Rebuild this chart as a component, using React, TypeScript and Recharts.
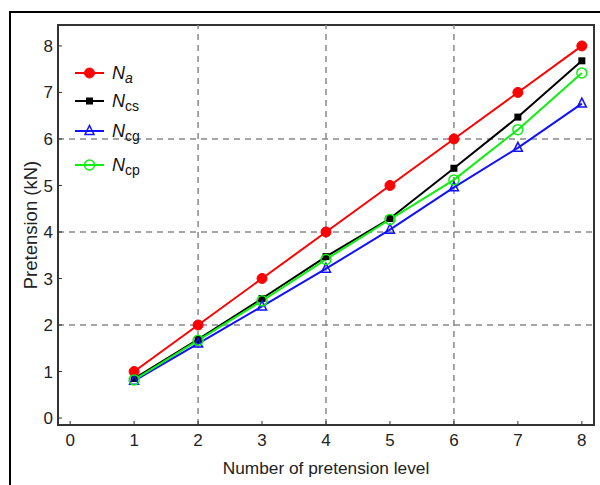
import React from 'react';
import {
    LineChart,
    Line,
    XAxis,
    YAxis,
    ReferenceLine,
    ReferenceArea,
} from 'recharts';

// pretension levels and the measured / computed forces (kN)
const levels = [1, 2, 3, 4, 5, 6, 7, 8];
const na = [1, 2, 3, 4, 5, 6, 7, 8];
const ncs = [0.85, 1.69, 2.57, 3.47, 4.29, 5.37, 6.47, 7.68];
const ncg = [0.8, 1.6, 2.4, 3.21, 4.05, 4.96, 5.81, 6.76];
const ncp = [0.82, 1.67, 2.52, 3.41, 4.27, 5.12, 6.2, 7.42];

const xTicks = [0, 1, 2, 3, 4, 5, 6, 7, 8];
const yTicks = [0, 1, 2, 3, 4, 5, 6, 7, 8];
const gridLevels = [2, 4, 6];

const X_DOMAIN: [number, number] = [-0.19, 8.19];
const Y_DOMAIN: [number, number] = [-0.15, 8.45];

const FONT = '"Liberation Sans", Arial, sans-serif';
const AXIS = '#333';

const RED = '#ff0000';
const BLACK = '#000000';
const BLUE = '#1111ff';
const GREEN = '#11ee11';

const data = levels.map((lv, i) => ({
    level: lv,
    na: na[i],
    ncs: ncs[i],
    ncg: ncg[i],
    ncp: ncp[i],
}));

type Shape = 'circle' | 'square' | 'triangle' | 'ring';

// marker drawn at (cx, cy)
const marker = (shape: Shape, color: string, cx: number, cy: number, key?: string) => {
    switch (shape) {
        case 'circle':
            return <circle key={key} cx={cx} cy={cy} r={5} fill={color} stroke={color} />;
        case 'square':
            return <rect key={key} x={cx - 3.5} y={cy - 3.5} width={7} height={7} fill={color} />;
        case 'triangle':
            return (
                <path
                    key={key}
                    d={`M${cx},${cy - 5.5} L${cx + 4.5},${cy + 3.5} L${cx - 4.5},${cy + 3.5} Z`}
                    fill="none"
                    stroke={color}
                    strokeWidth={1.5}
                />
            );
        default:
            return <circle key={key} cx={cx} cy={cy} r={5} fill="none" stroke={color} strokeWidth={1.5} />;
    }
};

const dotOf = (shape: Shape, color: string) => (props: any) =>
    marker(shape, color, props.cx, props.cy, `${shape}-${props.index}`);

const series = [
    { key: 'na', color: RED, shape: 'circle' as Shape, sub: 'a', italicSub: true },
    { key: 'ncs', color: BLACK, shape: 'square' as Shape, sub: 'cs', italicSub: false },
    { key: 'ncg', color: BLUE, shape: 'triangle' as Shape, sub: 'cg', italicSub: false },
    { key: 'ncp', color: GREEN, shape: 'ring' as Shape, sub: 'cp', italicSub: false },
];

const legendRows = [13, 41, 71, 105];

const LegendBox = () => (
    <svg width={120} height={125}>
        {series.map((s, i) => {
            const y = legendRows[i];
            return (
                <g key={s.key}>
                    <line x1={0} x2={29} y1={y} y2={y} stroke={s.color} strokeWidth={2} />
                    {marker(s.shape, s.color, 14.5, y)}
                    <text x={37} y={y + 6} fontFamily={FONT} fontSize={18} fill="#111">
                        <tspan fontStyle="italic">N</tspan>
                        <tspan
                            fontSize={14}
                            dy={4}
                            fontStyle={s.italicSub ? 'italic' : 'normal'}
                        >
                            {s.sub}
                        </tspan>
                    </text>
                </g>
            );
        })}
    </svg>
);

export default function App() {
    return (
        <div
            style={{
                position: 'fixed',
                left: 0,
                top: 0,
                width: 600,
                height: 485,
                overflow: 'hidden',
                background: '#fff',
            }}
        >
            <div
                style={{
                    position: 'absolute',
                    left: 9,
                    top: 11,
                    width: 640,
                    height: 520,
                    border: '2px solid #000',
                }}
            />
            <div style={{ position: 'absolute', left: 0, top: 0 }}>
                <LineChart
                    width={600}
                    height={485}
                    data={data}
                    margin={{ top: 25, right: 6, bottom: 0, left: 0 }}
                >
                    <XAxis
                        dataKey="level"
                        type="number"
                        domain={X_DOMAIN}
                        ticks={xTicks}
                        allowDataOverflow
                        height={60}
                        tickSize={-4}
                        tickMargin={13}
                        axisLine={{ stroke: AXIS, strokeWidth: 2 }}
                        tickLine={{ stroke: AXIS }}
                        tick={{ fontFamily: FONT, fontSize: 17, fill: '#222' }}
                        label={{
                            value: 'Number of pretension level',
                            position: 'insideBottom',
                            offset: 11,
                            style: { fontFamily: FONT, fontSize: 17.3, fill: '#222' },
                        }}
                    />
                    <YAxis
                        type="number"
                        domain={Y_DOMAIN}
                        ticks={yTicks}
                        allowDataOverflow
                        width={58}
                        tickSize={-4}
                        tickMargin={9}
                        axisLine={{ stroke: AXIS, strokeWidth: 2 }}
                        tickLine={{ stroke: AXIS }}
                        tick={{ fontFamily: FONT, fontSize: 17, fill: '#222' }}
                        label={{
                            value: 'Pretension (kN)',
                            angle: -90,
                            position: 'insideLeft',
                            offset: 30,
                            style: { fontFamily: FONT, fontSize: 18.5, fill: '#222', textAnchor: 'middle' },
                        }}
                    />
                    {/* frame around the plot area */}
                    <ReferenceArea
                        x1={X_DOMAIN[0]}
                        x2={X_DOMAIN[1]}
                        y1={Y_DOMAIN[0]}
                        y2={Y_DOMAIN[1]}
                        fill="none"
                        stroke={AXIS}
                        strokeWidth={2}
                        ifOverflow="visible"
                    />
                    {gridLevels.map((v) => (
                        <ReferenceLine
                            key={`gx-${v}`}
                            x={v}
                            stroke="#888"
                            strokeWidth={1.5}
                            strokeDasharray="6 5"
                        />
                    ))}
                    {gridLevels.map((v) => (
                        <ReferenceLine
                            key={`gy-${v}`}
                            y={v}
                            stroke="#888"
                            strokeWidth={1.5}
                            strokeDasharray="6 5"
                        />
                    ))}
                    {series.map((s) => (
                        <Line
                            key={s.key}
                            dataKey={s.key}
                            stroke={s.color}
                            strokeWidth={2}
                            dot={dotOf(s.shape, s.color)}
                            activeDot={false}
                            isAnimationActive={false}
                        />
                    ))}
                </LineChart>
            </div>
            <div style={{ position: 'absolute', left: 75, top: 60 }}>
                <LegendBox />
            </div>
        </div>
    );
}
